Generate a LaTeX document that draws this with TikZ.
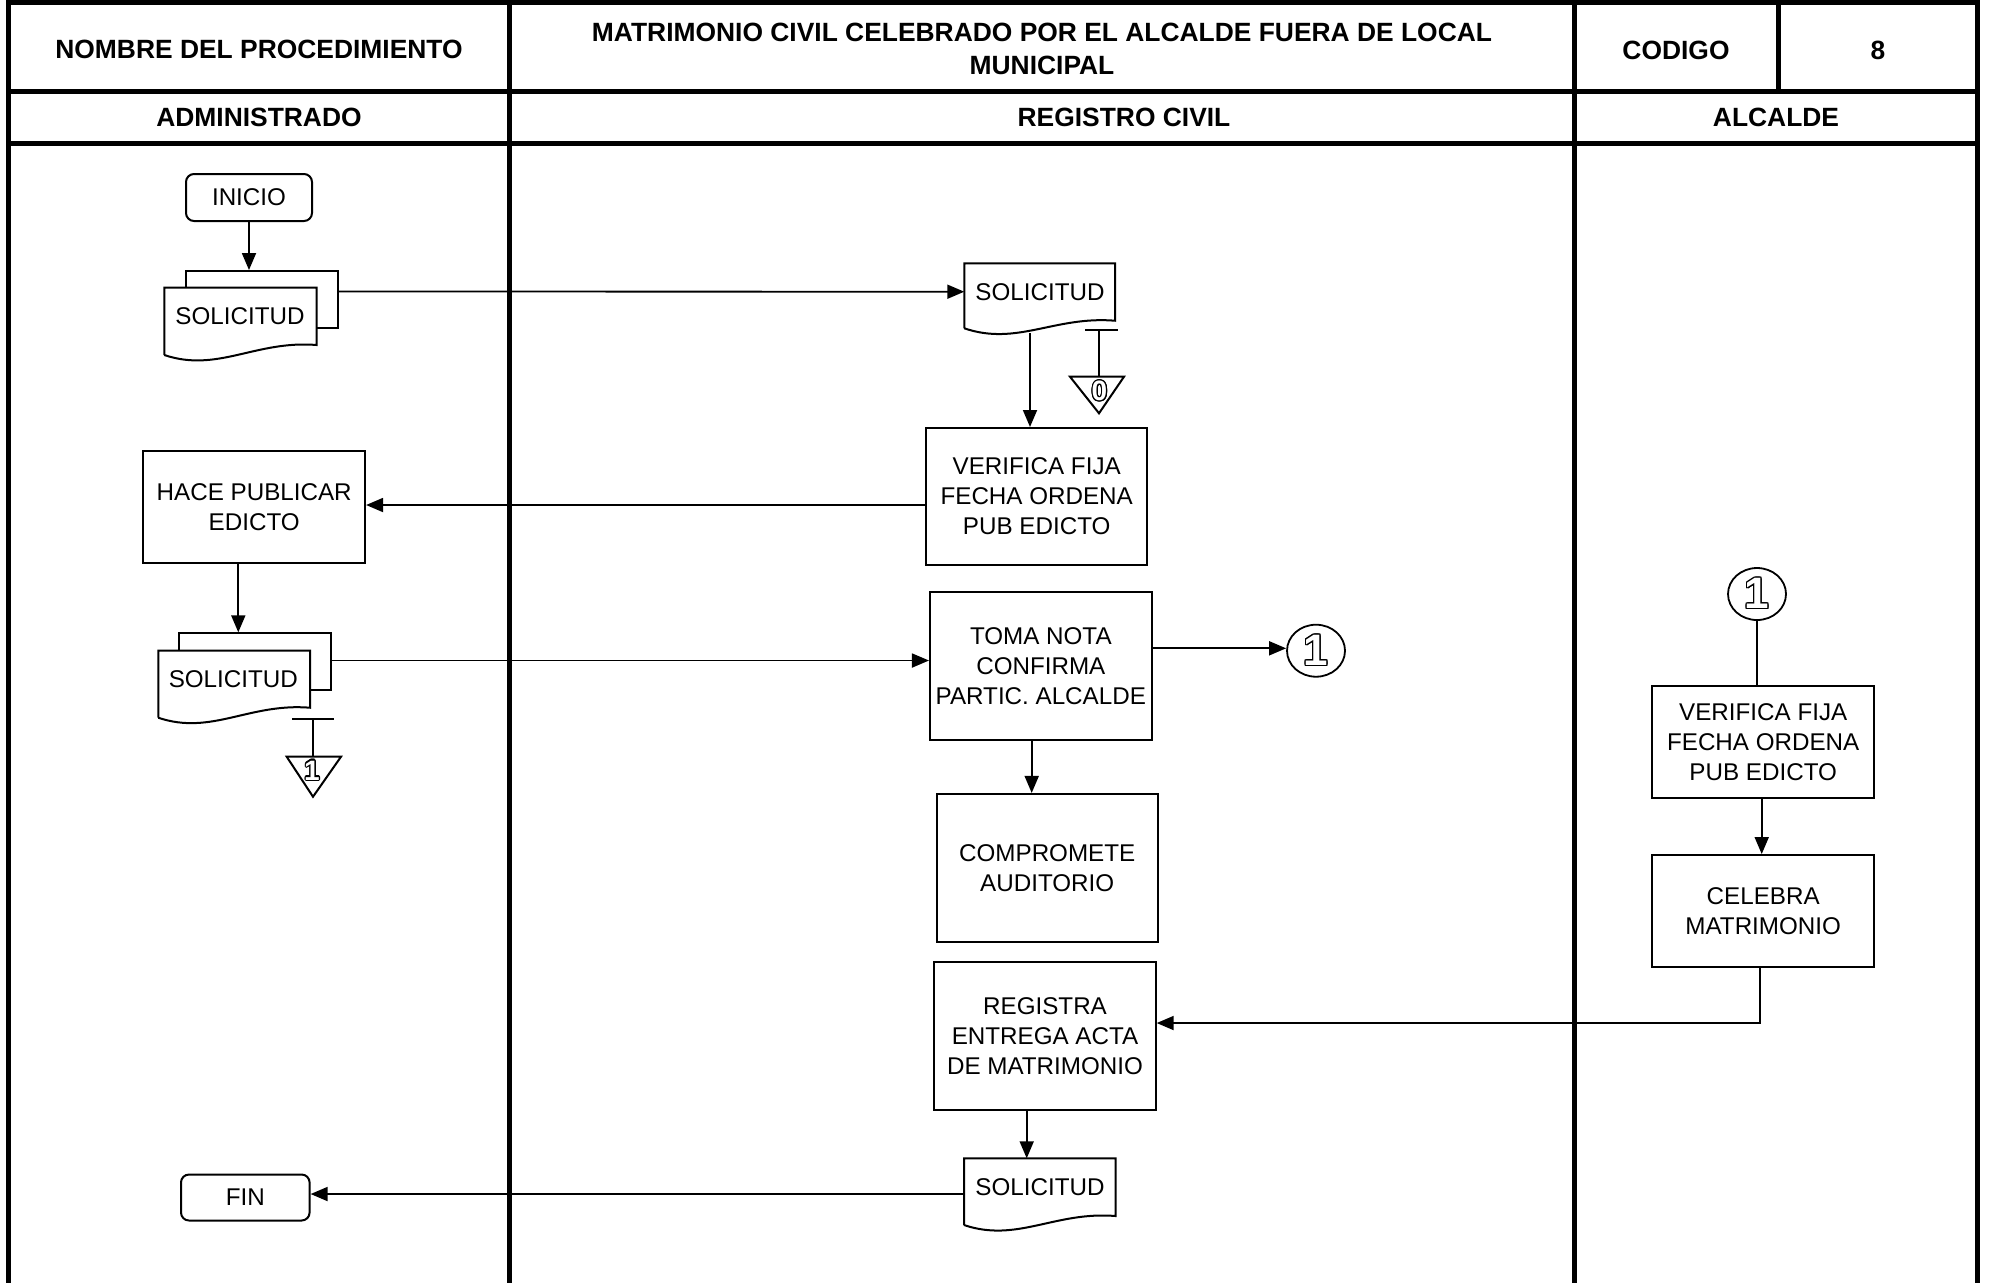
\documentclass[tikz,border=0pt]{standalone}
\usepackage{fontspec}
\setmainfont{Liberation Sans}
\usepackage{contour}
\contourlength{0.6pt}
\usetikzlibrary{arrows.meta,shapes.geometric}
\newcommand\hollow[1]{\contour{black}{\textcolor{white}{#1}}}
\newcommand\docpath[5]{% x1 ytop x2 yRight yLeft
  \pgfmathsetmacro\dcAx{#1+0.35*(#3-#1)}%
  \pgfmathsetmacro\dcAy{#5+18}%
  \pgfmathsetmacro\dcBx{#1+0.6*(#3-#1)}%
  \pgfmathsetmacro\dcBy{#4-5}%
  \draw[docline,fill=white] (#1,#5) -- (#1,#2) -- (#3,#2) -- (#3,#4)
    .. controls (\dcBx,\dcBy) and (\dcAx,\dcAy) .. (#1,#5);%
}
\tikzset{
  lane/.style={line width=2.5pt, line cap=rect},
  docline/.style={line width=1pt},
  proc/.style={draw, line width=1pt, inner sep=0pt, align=center,
    font=\fontsize{12.1}{15}\selectfont},
  term/.style={proc, rounded corners=4pt},
  txt/.style={inner sep=0pt, align=center, font=\fontsize{12.1}{15}\selectfont},
  hdr/.style={inner sep=0pt, align=center, font=\fontsize{13.2}{16.5}\selectfont\bfseries},
  conn/.style={line width=0.9pt},
  arr/.style={conn, -{Triangle[length=8.5pt,width=7pt]}},
  circ/.style={draw, ellipse, line width=0.9pt, inner sep=0pt,
    minimum width=29pt, minimum height=26pt, font=\fontsize{22}{22}\selectfont\bfseries},
  tri/.style={inner sep=0pt, font=\fontsize{14}{14}\selectfont\bfseries},
}
\begin{document}
\begin{tikzpicture}[x=0.5pt,y=-0.5pt]
\useasboundingbox (0,0) rectangle (1990,1282);

% ---- lanes and header grid ----
\draw[lane] (8,0) -- (8,1282);
\draw[lane] (509,0) -- (509,1282);
\draw[lane] (1574.5,0) -- (1574.5,1282);
\draw[lane] (1977.5,0) -- (1977.5,1282);
\draw[lane] (1778,0) -- (1778,91.5);
\draw[lane] (8,2.5) -- (1977.5,2.5);
\draw[lane] (8,91.5) -- (1977.5,91.5);
\draw[lane] (8,143) -- (1977.5,143);

\node[hdr] (hname) at (259,49) {NOMBRE DEL PROCEDIMIENTO};
\node[hdr] (htitle) at (1042,48.5) {MATRIMONIO CIVIL CELEBRADO POR EL ALCALDE FUERA DE LOCAL\\MUNICIPAL};
\node[hdr] (hcod) at (1676,50) {CODIGO};
\node[hdr] (hnum) at (1878,50) {8};
\node[hdr] (hadm) at (259,117.5) {ADMINISTRADO};
\node[hdr] (hreg) at (1124,117.5) {REGISTRO CIVIL};
\node[hdr] (halc) at (1776,117.5) {ALCALDE};

% ---- ADMINISTRADO ----
\node[term, minimum width=63pt, minimum height=23.5pt] (inicio) at (249,197.5) {INICIO};
\node[draw, line width=1pt, fill=white, minimum width=76pt, minimum height=28.35pt, inner sep=0pt] (sol1b) at (261.7,299.35) {};
\docpath{164.3}{287.7}{316.7}{345}{355}
\node[txt] (sol1) at (240,316) {SOLICITUD};

\node[proc, minimum width=110.85pt, minimum height=56.3pt] (hace) at (254.2,507) {HACE PUBLICAR\\EDICTO};

\node[draw, line width=1pt, fill=white, minimum width=75.85pt, minimum height=28.35pt, inner sep=0pt] (sol3b) at (255.15,661.65) {};
\docpath{158.3}{650.7}{310}{707.7}{717.7}
\node[txt] (sol3) at (233.3,679.3) {SOLICITUD};

% archive 1
\coordinate (arA) at (313,718.7);
\draw[conn] (292,718.7) -- (334,718.7);
\draw[docline] (286.7,756.7) -- (341,756.7) -- (313,796.7) -- cycle;
\draw[conn] (arA) -- (313,756.7);
\node[tri] (ar1) at (312,771) {\hollow{1}};

\node[term, minimum width=64.3pt, minimum height=23pt] (fin) at (245.3,1197.5) {FIN};

% ---- REGISTRO CIVIL ----
\docpath{964.3}{263.3}{1115}{320.7}{328.3}
\node[txt] (sol2) at (1040,291.7) {SOLICITUD};
\coordinate (sol2w) at (964.3,291.7);
\coordinate (sol2s) at (1030,333);

% archive 0
\coordinate (arB) at (1099,330);
\draw[conn] (1085,330) -- (1118.3,330);
\draw[conn] (arB) -- (1099,376.7);
\draw[docline] (1070,376.7) -- (1124,376.7) -- (1099,413.3) -- cycle;
\node[tri] (ar0) at (1099.5,391.5) {\hollow{0}};

\node[proc, minimum width=110.65pt, minimum height=68.5pt] (ver1) at (1036.7,496.5) {VERIFICA FIJA\\FECHA ORDENA\\PUB EDICTO};
\node[proc, minimum width=110.85pt, minimum height=73.85pt] (toma) at (1040.8,666.2) {TOMA NOTA\\CONFIRMA\\PARTIC. ALCALDE};
\node[circ] (c1) at (1316,650.7) {\hollow{1}};
\node[proc, minimum width=110.5pt, minimum height=73.85pt] (comp) at (1047.2,867.8) {COMPROMETE\\AUDITORIO};
\node[proc, minimum width=110.7pt, minimum height=73.85pt] (regi) at (1045,1036.2) {REGISTRA\\ENTREGA ACTA\\DE MATRIMONIO};

\docpath{964}{1158.3}{1115.7}{1216}{1225}
\node[txt] (sol4) at (1040,1186.7) {SOLICITUD};
\coordinate (sol4w) at (964,1194);

% ---- ALCALDE ----
\node[circ] (c2) at (1757,594) {\hollow{1}};
\node[proc, minimum width=110.85pt, minimum height=56pt] (ver2) at (1763.2,741.7) {VERIFICA FIJA\\FECHA ORDENA\\PUB EDICTO};
\node[proc, minimum width=110.85pt, minimum height=56.15pt] (cele) at (1763.2,911.2) {CELEBRA\\MATRIMONIO};

% ---- connectors ----
\coordinate (yA) at (0,505);
\coordinate (yB) at (0,660.5);
\coordinate (yC) at (0,648.3);
\coordinate (yD) at (0,1023);
\coordinate (yE) at (0,291.5);

\draw[arr] (inicio.south) -- (inicio.south |- sol1b.north);
\draw[arr] (sol1b.east |- yE) -- (sol2w);
\draw[arr] (sol2s) -- (sol2s |- ver1.north);
\draw[arr] (ver1.west |- yA) -- (hace.east |- yA);
\draw[arr] (hace.south -| 238.3,0) -- (238.3,0 |- sol3b.north);
\draw[arr] (sol3b.east |- yB) -- (toma.west |- yB);
\draw[arr] (toma.east |- yC) -- (c1.west |- yC);
\draw[arr] (toma.south -| 1031.7,0) -- (1031.7,0 |- comp.north);
\draw[conn] (c2.south) -- (c2.south |- ver2.north);
\draw[arr] (ver2.south -| 1761.7,0) -- (1761.7,0 |- cele.north);
\draw[arr] (cele.south -| 1760,0) |- (regi.east |- yD);
\draw[arr] (regi.south -| 1026.7,0) -- (1026.7,1158.3);
\draw[arr] (sol4w) -- (fin.east |- sol4w);
\end{tikzpicture}
\end{document}
